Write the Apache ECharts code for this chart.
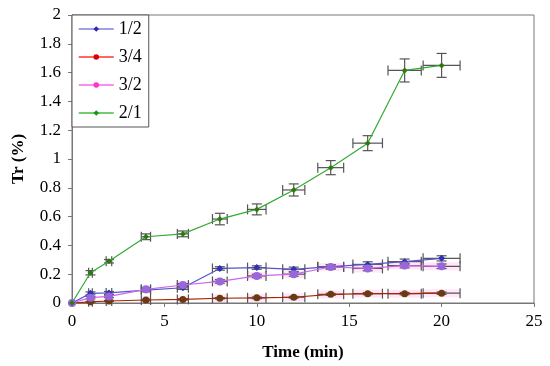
<!DOCTYPE html>
<html><head><meta charset="utf-8">
<script src="https://cdn.jsdelivr.net/npm/echarts@6/dist/echarts.min.js"></script>
<style>html,body{margin:0;padding:0;background:#fff}#c{width:550px;height:366px}</style>
</head><body><div id="c"></div>
<script>
var times = [0, 1, 2, 4, 6, 8, 10, 12, 14, 16, 18, 20];
var seriesNames = ['1/2', '3/4', '3/2', '2/1'];
var s12 = [0, 0.067, 0.07, 0.09, 0.106, 0.24, 0.246, 0.234, 0.252, 0.268, 0.287, 0.31];
var s34 = [0, 0.008, 0.014, 0.021, 0.025, 0.033, 0.036, 0.04, 0.06, 0.065, 0.065, 0.068];
var s32 = [0, 0.037, 0.046, 0.095, 0.125, 0.15, 0.188, 0.2, 0.25, 0.24, 0.26, 0.255];
var s21 = [0, 0.21, 0.29, 0.46, 0.48, 0.583, 0.65, 0.785, 0.94, 1.11, 1.615, 1.65];
var xErr = [0, 0.1, 0.15, 0.25, 0.3, 0.4, 0.5, 0.6, 0.7, 0.8, 0.9, 1.0];
var yErr12 = [0, 0.01, 0.01, 0.012, 0.012, 0.012, 0.012, 0.015, 0.015, 0.018, 0.018, 0.018];
var yErr34 = [0, 0.004, 0.004, 0.005, 0.005, 0.005, 0.006, 0.006, 0.007, 0.007, 0.008, 0.008];
var yErr32 = [0, 0.008, 0.008, 0.01, 0.01, 0.012, 0.012, 0.014, 0.014, 0.016, 0.016, 0.016];
var yErr21 = [0, 0.015, 0.012, 0.02, 0.02, 0.04, 0.038, 0.042, 0.049, 0.052, 0.08, 0.083];
var xTicks = [0, 5, 10, 15, 20, 25];
var yTicks = [0, 0.2, 0.4, 0.6, 0.8, 1, 1.2, 1.4, 1.6, 1.8, 2];

var legendColors = {
  '1/2': {line: '#8080dd', dot: '#2a2ab0'},
  '3/4': {line: '#ff3333', dot: '#dd0000'},
  '3/2': {line: '#ff66dd', dot: '#ff33cc'},
  '2/1': {line: '#44bb44', dot: '#119911'}
};
var plotStyle = [
  {name: '1/2', vals: s12, err: yErr12, line: '#5555cc', dot: '#3030b8', sym: 'diamond', size: 7},
  {name: '3/4', vals: s34, err: yErr34, line: '#aa2200', dot: '#6b3a10', sym: 'circle', size: 7},
  {name: '3/2', vals: s32, err: yErr32, line: '#cc66ee', dot: '#9a66dd', sym: 'circle', size: 8},
  {name: '2/1', vals: s21, err: yErr21, line: '#33aa33', dot: '#2f7a10', sym: 'diamond', size: 6}
];

var series = [];
plotStyle.forEach(function (p) {
  var errData = times.map(function (t, i) { return [t, p.vals[i], xErr[i], p.err[i]]; });
  series.push({
    type: 'custom',
    name: p.name + ' err',
    silent: true,
    z: 2,
    data: errData,
    renderItem: function (params, api) {
      var x = api.value(0), y = api.value(1), ex = api.value(2), ey = api.value(3);
      if (ex === 0 && ey === 0) return null;
      var c = api.coord([x, y]);
      var l = api.coord([x - ex, y]), r = api.coord([x + ex, y]);
      var t = api.coord([x, y + ey]), b = api.coord([x, y - ey]);
      var st = {stroke: '#555', lineWidth: 1.2};
      var cap = 5;
      var kids = [];
      if (p.name === '3/2' || p.name === '3/4') {
        kids.push({type: 'rect', shape: {x: l[0], y: c[1] - 4, width: r[0] - l[0], height: 8}, style: {fill: 'rgba(255,120,220,0.18)'}});
      }
      kids.push(
        {type: 'line', shape: {x1: l[0], y1: c[1], x2: r[0], y2: c[1]}, style: st},
        {type: 'line', shape: {x1: l[0], y1: c[1] - cap, x2: l[0], y2: c[1] + cap}, style: st},
        {type: 'line', shape: {x1: r[0], y1: c[1] - cap, x2: r[0], y2: c[1] + cap}, style: st},
        {type: 'line', shape: {x1: c[0], y1: t[1], x2: c[0], y2: b[1]}, style: st},
        {type: 'line', shape: {x1: c[0] - cap, y1: t[1], x2: c[0] + cap, y2: t[1]}, style: st},
        {type: 'line', shape: {x1: c[0] - cap, y1: b[1], x2: c[0] + cap, y2: b[1]}, style: st}
      );
      return {type: 'group', children: kids};
    }
  });
});
plotStyle.forEach(function (p) {
  series.push({
    type: 'line',
    name: p.name,
    z: 3,
    symbol: p.sym,
    symbolSize: p.size,
    showAllSymbol: true,
    data: times.map(function (t, i) {
      return {value: [t, p.vals[i]], itemStyle: {color: p.dot}};
    }),
    lineStyle: {color: p.line, width: 1.2},
    itemStyle: {color: legendColors[p.name].dot},
    emphasis: {disabled: true},
    animation: false
  });
});

var font = '"Liberation Serif", "Times New Roman", serif';
var chart = echarts.init(document.getElementById('c'));
chart.setOption({
  animation: false,
  backgroundColor: '#fff',
  grid: {left: 72, right: 16, top: 15, bottom: 63, show: true, borderColor: '#777', borderWidth: 1},
  legend: {
    orient: 'vertical', left: 72, top: 15,
    backgroundColor: '#fff', borderColor: '#555', borderWidth: 1,
    padding: [5, 7, 5, 6], itemGap: 10,
    itemWidth: 35, itemHeight: 7,
    textStyle: {fontFamily: font, fontSize: 18, color: '#000', lineHeight: 18},
    data: seriesNames.map(function (n) {
      return {name: n, itemStyle: {color: legendColors[n].dot}, lineStyle: {color: legendColors[n].line, width: 1.5}};
    })
  },
  xAxis: {
    type: 'value', min: 0, max: 25, interval: 5,
    name: 'Time (min)', nameLocation: 'middle', nameGap: 41,
    nameTextStyle: {fontFamily: font, fontSize: 17, fontWeight: 'bold', color: '#000'},
    axisLine: {show: true, lineStyle: {color: '#777'}},
    axisTick: {show: true, length: 4, lineStyle: {color: '#777'}},
    axisLabel: {fontFamily: font, fontSize: 17, color: '#000', margin: 10,
      formatter: function (v) { return xTicks.indexOf(v) >= 0 ? String(v) : ''; }},
    splitLine: {show: false}
  },
  yAxis: {
    type: 'value', min: 0, max: 2, interval: 0.2,
    name: 'Tr (%)', nameLocation: 'middle', nameGap: 45, nameRotate: 90,
    nameTextStyle: {fontFamily: font, fontSize: 17, fontWeight: 'bold', color: '#000'},
    axisLine: {show: true, lineStyle: {color: '#777'}},
    axisTick: {show: true, length: 4, lineStyle: {color: '#777'}},
    axisLabel: {fontFamily: font, fontSize: 17, color: '#000', margin: 11,
      formatter: function (v) {
        var r = Math.round(v * 10) / 10;
        return yTicks.indexOf(r) >= 0 ? String(r) : '';
      }},
    splitLine: {show: false}
  },
  series: series
});
</script>
</body></html>
